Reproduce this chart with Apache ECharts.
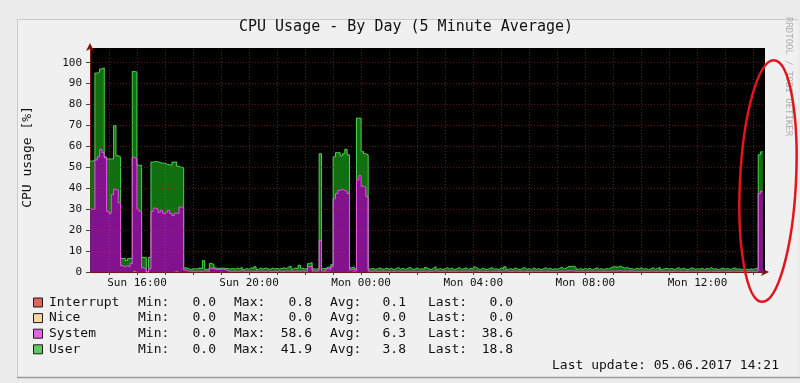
<!DOCTYPE html>
<html>
<head>
<meta charset="utf-8">
<script src="https://cdn.jsdelivr.net/npm/echarts@6/dist/echarts.min.js"></script>
<style>
html,body{margin:0;padding:0;background:#ebebeb;}
#c{width:800px;height:383px;}
</style>
</head>
<body>
<div id="c"></div>
<script>
// ---- data (5-minute samples, first sample ends Sun 14:20) ----
const startMinute = 860;      // minutes since Sun 00:00 (Sun 14:20)
const stepMinutes = 5;

const systemVals = [
  30, 30, 30, 53.5, 55, 58.6, 57, 54.5, 29, 28,
  37, 39.5, 39, 33, 3, 2.5, 3, 2.5, 4, 54,
  54, 30, 29, 2, 1.5, 0, 1.5, 29, 30.5, 30,
  28.5, 29.5, 28, 28.5, 29.5, 28, 27, 27.5, 28, 31,
  31, 1, 0.5, 0.3, 0.4, 0.2, 0.5, 0.4, 0.3, 0.6,
  0.4, 0.3, 1.8, 1.6, 1.3, 1.2, 1.4, 1.3, 1.2, 0.5,
  0.4, 0.3, 0.5, 0.3, 0.4, 0.6, 0.3, 0.4, 0.3, 0.5,
  0.3, 0.4, 0.3, 0.5, 0.4, 0.3, 0.5, 0.4, 0.3, 0.4,
  0.3, 0.5, 0.4, 0.3, 0.6, 0.4, 0.5, 0.3, 0.4, 0.5,
  0.4, 0.6, 0.3, 0.5, 2.5, 2.8, 0.5, 0.4, 0.6, 15,
  0.5, 0.4, 1.2, 1.0, 2.5, 35, 37.5, 39, 39.5, 39,
  38.5, 37.5, 1.0, 0.8, 0.6, 44, 46, 41, 40.5, 36,
  0.4, 0.3, 0.5, 0.3, 0.4, 0.5, 0.3, 0.4, 0.3, 0.5,
  0.3, 0.4, 0.5, 0.3, 0.4, 0.3, 0.5, 0.4, 0.3, 0.4,
  0.5, 0.3, 0.4, 0.3, 0.5, 0.4, 0.3, 0.4, 0.6, 0.3,
  0.4, 0.3, 0.5, 0.4, 0.3, 0.5, 0.3, 0.4, 0.5, 0.3,
  0.4, 0.5, 0.3, 0.4, 0.3, 0.6, 0.4, 0.3, 0.4, 0.3,
  0.3, 0.4, 0.5, 0.3, 0.4, 0.3, 0.5, 0.4, 0.6, 0.3,
  0.4, 0.3, 0.5, 0.4, 0.3, 0.4, 0.5, 0.3, 0.4, 0.3,
  0.5, 0.3, 0.4, 0.3, 0.4, 0.5, 0.3, 0.4, 0.3, 0.4,
  0.3, 0.4, 0.5, 0.3, 0.5, 0.5, 0.6, 0.5, 0.4, 0.3,
  0.4, 0.3, 0.4, 0.3, 0.5, 0.3, 0.4, 0.5, 0.3, 0.4,
  0.3, 0.4, 0.3, 0.5, 0.5, 0.4, 0.5, 0.6, 0.4, 0.4,
  0.5, 0.3, 0.4, 0.3, 0.4, 0.3, 0.5, 0.3, 0.4, 0.3,
  0.4, 0.5, 0.3, 0.4, 0.5, 0.3, 0.4, 0.4, 0.3, 0.4,
  0.3, 0.4, 0.5, 0.3, 0.4, 0.3, 0.3, 0.4, 0.5, 0.3,
  0.4, 0.3, 0.4, 0.3, 0.4, 0.3, 0.5, 0.3, 0.4, 0.3,
  0.4, 0.5, 0.3, 0.4, 0.3, 0.4, 0.5, 0.3, 0.4, 0.3,
  0.4, 0.3, 0.3, 0.4, 0.3, 0.4, 0.5, 37.5, 38.6
];

const userVals = [
  23, 23, 23.5, 41.5, 40.5, 38.4, 40.5, 0.5, 25, 26,
  17, 30.5, 16.5, 22, 3.5, 4, 2.5, 4, 2.5, 41,
  41.5, 21, 22, 5, 5.5, 0, 5.5, 23.5, 22.3, 22.6,
  23.8, 22.5, 24, 23, 21.7, 23, 25.5, 24.5, 22.5, 19,
  19, 1, 1.2, 0.9, 1.1, 1.3, 1.0, 1.6, 1.2, 4.8,
  0.9, 1.1, 2.3, 2.0, 0.6, 0.5, 0.4, 0.6, 0.5, 1.1,
  1.0, 1.4, 0.8, 1.5, 1.1, 1.7, 0.9, 1.3, 1.0, 1.6,
  1.2, 2.1, 0.9, 1.4, 1.0, 1.5, 1.2, 0.8, 1.6, 1.1,
  1.4, 0.9, 1.3, 1.7, 1.0, 2.0, 2.2, 1.1, 1.5, 1.0,
  2.8, 1.2, 1.0, 1.3, 1.5, 1.7, 1.0, 0.9, 1.2, 41.5,
  1.1, 1.3, 0.8, 1.0, 1.0, 20, 19.5, 18, 16, 17.5,
  20.1, 18.5, 1.0, 1.2, 0.9, 29.5, 27.5, 16.5, 16, 20,
  1.0, 1.4, 0.8, 1.2, 1.6, 0.9, 1.1, 1.5, 1.0, 1.3,
  0.8, 1.2, 1.7, 1.0, 1.4, 0.9, 1.3, 1.8, 1.1, 0.9,
  1.5, 1.0, 1.2, 0.8, 1.6, 1.1, 0.9, 1.4, 2.0, 1.0,
  1.3, 0.9, 1.1, 1.7, 1.0, 1.4, 0.8, 1.2, 1.6, 1.0,
  1.1, 1.5, 0.9, 1.3, 1.0, 1.8, 1.2, 0.8, 1.4, 1.1,
  0.9, 1.3, 1.6, 1.0, 1.2, 0.8, 1.5, 1.1, 1.9, 1.0,
  1.2, 0.9, 1.4, 1.1, 0.8, 1.3, 1.7, 1.0, 1.2, 0.9,
  1.5, 1.0, 1.3, 0.8, 1.1, 1.6, 1.0, 1.4, 0.9, 1.2,
  1.0, 1.3, 1.8, 1.1, 1.5, 2.2, 2.0, 2.3, 1.9, 1.0,
  1.2, 0.9, 1.4, 1.0, 1.3, 0.8, 1.1, 1.5, 1.0, 1.2,
  0.9, 1.3, 1.1, 1.6, 2.0, 2.1, 1.8, 2.2, 1.9, 1.4,
  1.7, 1.0, 1.2, 0.9, 1.4, 1.1, 1.6, 1.0, 1.3, 0.8,
  1.1, 1.5, 1.0, 1.3, 1.7, 0.9, 1.2, 1.4, 1.0, 1.3,
  0.9, 1.2, 1.6, 1.0, 1.4, 1.1, 0.8, 1.3, 1.5, 1.0,
  1.2, 1.0, 1.4, 0.9, 1.3, 1.1, 1.6, 1.0, 1.2, 0.8,
  1.1, 1.4, 1.0, 1.3, 0.9, 1.2, 1.5, 1.0, 1.1, 0.9,
  1.2, 1.0, 0.8, 1.1, 0.9, 1.3, 1.2, 18.5, 18.8
];

// sparse interrupt blips: [sample index, value]
const interruptBlips = [[19, 0.8], [37, 0.6], [102, 0.4], [113, 0.5], [231, 0.3]];

const yTicks = [0, 10, 20, 30, 40, 50, 60, 70, 80, 90, 100];
const xLabelMinutes = [960, 1200, 1440, 1680, 1920, 2160];
const xLabelTexts = ['Sun 16:00', 'Sun 20:00', 'Mon 00:00', 'Mon 04:00', 'Mon 08:00', 'Mon 12:00'];

const legendNames = ['Interrupt', 'Nice', 'System', 'User'];
const legendColors = ['#e0645e', '#f5d6a0', '#e264e2', '#64c864'];
const minVals = ['0.0', '0.0', '0.0', '0.0'];
const maxVals = ['0.8', '0.0', '58.6', '41.9'];
const avgVals = ['0.1', '0.0', '6.3', '3.8'];
const lastVals = ['0.0', '0.0', '38.6', '18.8'];
const titleText = 'CPU Usage - By Day (5 Minute Average)';
const yName = 'CPU usage [%]';
const lastUpdate = 'Last update: 05.06.2017 14:21';

// ---- build (x = minutes since Sun 00:00) ----
const times = systemVals.map((_, i) => startMinute + i * stepMinutes);
const interruptVals = systemVals.map(() => 0);
interruptBlips.forEach(([i, v]) => { interruptVals[i] = v; });
// cumulative tops of the stacked layers (Interrupt, System, User)
const sysTop = systemVals.map((v, i) => interruptVals[i] + v);
const userTop = userVals.map((v, i) => sysTop[i] + v);

const FONT = '"DejaVu Sans Mono"';
const MINOR = 'rgba(150,150,150,0.32)';
const MAJOR = 'rgba(170,40,40,0.55)';

const gridLines = [];
for (let h = 15; h <= 38; h++) {
  gridLines.push({ xAxis: h * 60, lineStyle: { color: h % 4 === 0 ? MAJOR : MINOR, type: [1, 2], width: 1 } });
}
yTicks.filter(v => v > 0).forEach(v => {
  gridLines.push({ yAxis: v, lineStyle: { color: MAJOR, type: [1, 2], width: 1 } });
});
const hourTicks = [];
for (let h = 15; h <= 38; h++) hourTicks.push(h * 60);

function txt(x, y, text, align, size, extra) {
  return Object.assign({
    type: 'text', x: x, y: y,
    style: { text: text, font: size + 'px ' + FONT, fill: '#111',
      align: align, textAlign: align, verticalAlign: 'middle', textVerticalAlign: 'middle' }
  }, extra || {});
}

const graphics = [
  { type: 'rect', z: -100, shape: { x: 17, y: 19, width: 781, height: 359 },
    style: { fill: '#f0f0f0' } },
  { type: 'line', z: -99, shape: { x1: 17, y1: 19.5, x2: 798, y2: 19.5 }, style: { stroke: '#cbcbcb', lineWidth: 1 } },
  { type: 'line', z: -99, shape: { x1: 17.5, y1: 19, x2: 17.5, y2: 378 }, style: { stroke: '#cbcbcb', lineWidth: 1 } },
  { type: 'line', z: -99, shape: { x1: 17, y1: 377.5, x2: 800, y2: 377.5 }, style: { stroke: '#9a9a9a', lineWidth: 1.5 } },
  txt(406, 27, titleText, 'center', 15),
  txt(27.5, 157, yName, 'center', 13, { rotation: Math.PI / 2 }),
  { type: 'text', x: 788, y: 17, rotation: -Math.PI / 2,
    style: { text: 'RRDTOOL / TOBI OETIKER', font: '9px ' + FONT, fill: '#adadad',
      align: 'left', textAlign: 'left', verticalAlign: 'middle', textVerticalAlign: 'middle' } },
  txt(779, 366, lastUpdate, 'right', 13)
];
legendNames.forEach((name, i) => {
  const y = 302.5 + i * 15.6;
  graphics.push({ type: 'rect', shape: { x: 33.5, y: y - 4.5, width: 9, height: 9 },
    style: { fill: legendColors[i], stroke: '#1a1a1a', lineWidth: 1 } });
  graphics.push(txt(49, y, name, 'left', 13));
  graphics.push(txt(138, y, 'Min:', 'left', 13));
  graphics.push(txt(216, y, minVals[i], 'right', 13));
  graphics.push(txt(234, y, 'Max:', 'left', 13));
  graphics.push(txt(312, y, maxVals[i], 'right', 13));
  graphics.push(txt(330, y, 'Avg:', 'left', 13));
  graphics.push(txt(406, y, avgVals[i], 'right', 13));
  graphics.push(txt(428, y, 'Last:', 'left', 13));
  graphics.push(txt(513, y, lastVals[i], 'right', 13));
});
graphics.push({ type: 'ellipse', x: 768, y: 181, rotation: -0.05, z: 100,
  shape: { cx: 0, cy: 0, rx: 28, ry: 121 },
  style: { fill: null, stroke: '#e3141c', lineWidth: 2.5 } });

const chart = echarts.init(document.getElementById('c'), null, { renderer: 'canvas' });
chart.setOption({
  animation: false,
  backgroundColor: 'transparent',
  grid: { left: 90, top: 48, width: 675, height: 224, show: true, backgroundColor: '#000',
    borderWidth: 0, containLabel: false, outerBoundsMode: 'none' },
  xAxis: {
    type: 'value', min: 859.5, max: 2304.5,
    splitLine: { show: false },
    axisLine: { show: true, onZero: false, lineStyle: { color: '#7a1414', width: 1 },
      symbol: ['none', 'arrow'], symbolSize: [6, 8], symbolOffset: [0, 4] },
    axisTick: { show: true, length: 3, lineStyle: { color: '#444' }, customValues: hourTicks },
    axisLabel: {
      customValues: xLabelMinutes, margin: 6,
      fontFamily: FONT, fontSize: 11, color: '#111',
      formatter: function (v) {
        const k = xLabelMinutes.findIndex(m => Math.abs(m - v) < 0.01);
        return k >= 0 ? xLabelTexts[k] : '';
      }
    }
  },
  yAxis: {
    type: 'value', min: 0, max: 107,
    splitLine: { show: false },
    axisLine: { show: true, lineStyle: { color: '#7a1414', width: 1 },
      symbol: ['none', 'arrow'], symbolSize: [6, 8], symbolOffset: [0, 5] },
    axisTick: { show: true, length: 4, lineStyle: { color: '#444' }, customValues: yTicks },
    axisLabel: { customValues: yTicks, margin: 8, fontFamily: FONT, fontSize: 11, color: '#111' }
  },
  graphic: { elements: graphics },
  series: [
    {
      name: 'User', type: 'line', step: 'start', symbol: 'none', silent: true,
      data: times.map((t, i) => [t, userTop[i]]),
      lineStyle: { width: 1, color: '#4ed24e' }, areaStyle: { color: '#10700f', opacity: 1 },
      itemStyle: { color: '#4ed24e' }, emphasis: { disabled: true },
      markLine: { silent: true, symbol: ['none', 'none'], label: { show: false }, animation: false, data: gridLines }
    },
    {
      name: 'System', type: 'line', step: 'start', symbol: 'none', silent: true,
      data: times.map((t, i) => [t, sysTop[i]]),
      lineStyle: { width: 1, color: '#ec50ec' }, areaStyle: { color: '#83128f', opacity: 1 },
      itemStyle: { color: '#ec50ec' }, emphasis: { disabled: true }
    },
    {
      name: 'Interrupt', type: 'line', step: 'start', symbol: 'none', silent: true,
      data: times.map((t, i) => [t, interruptVals[i]]),
      lineStyle: { width: 0 }, areaStyle: { color: '#d05a55', opacity: 1 },
      emphasis: { disabled: true }
    }
  ]
});
</script>
</body>
</html>
